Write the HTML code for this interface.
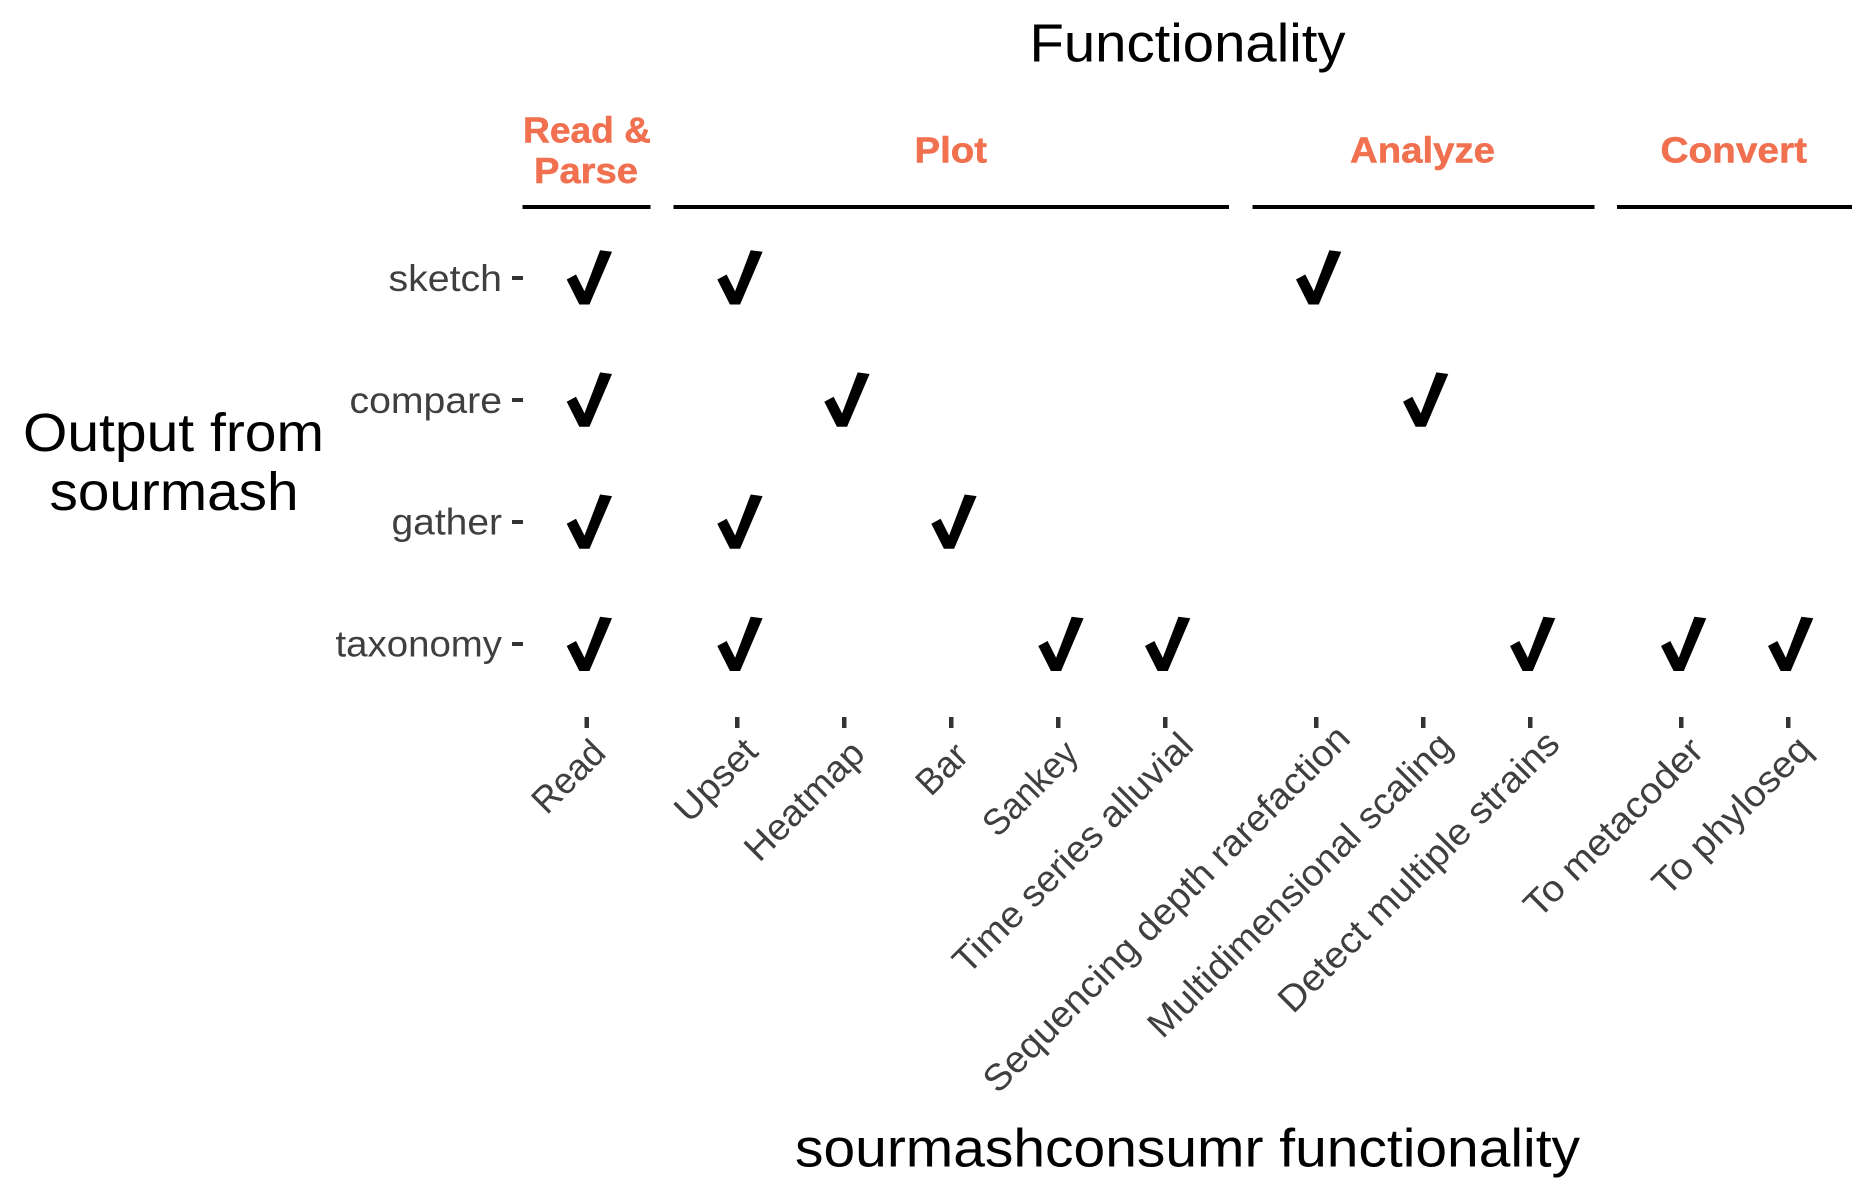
<!DOCTYPE html>
<html><head><meta charset="utf-8"><style>
html,body{margin:0;padding:0;background:#fff;width:1875px;height:1200px;overflow:hidden}
svg{display:block}
text{font-family:"Liberation Sans",sans-serif}
.t{font-size:54px;fill:#000}
.c{font-size:36px;font-weight:700;fill:#F0704F;stroke:#F0704F;stroke-width:.5}
.l{font-size:37px;fill:#3f3f3f}
</style></head><body>
<svg width="1875" height="1200" viewBox="0 0 1875 1200" xmlns="http://www.w3.org/2000/svg">
<rect width="1875" height="1200" fill="#fff"/>
<text class="t" x="1029.5" y="61.7" textLength="316" lengthAdjust="spacingAndGlyphs">Functionality</text>
<text class="t" x="23" y="451" textLength="301" lengthAdjust="spacingAndGlyphs">Output from</text>
<text class="t" x="49.5" y="510" textLength="249" lengthAdjust="spacingAndGlyphs">sourmash</text>
<text class="t" x="795" y="1166.7" textLength="785" lengthAdjust="spacingAndGlyphs">sourmashconsumr functionality</text>

<text class="c" x="523" y="142.7" textLength="128" lengthAdjust="spacingAndGlyphs">Read &amp;</text>
<text class="c" x="534" y="183" textLength="104" lengthAdjust="spacingAndGlyphs">Parse</text>
<text class="c" x="914.5" y="162.6" textLength="72.5" lengthAdjust="spacingAndGlyphs">Plot</text>
<text class="c" x="1350" y="162.6" textLength="145" lengthAdjust="spacingAndGlyphs">Analyze</text>
<text class="c" x="1660.5" y="162.6" textLength="146.5" lengthAdjust="spacingAndGlyphs">Convert</text>

<g fill="#000">
<rect x="522.5" y="205" width="128" height="4"/>
<rect x="673.5" y="205" width="555.5" height="4"/>
<rect x="1252.5" y="205" width="342" height="4"/>
<rect x="1617" y="205" width="235" height="4"/>
</g>

<text class="l" x="388.5" y="291" textLength="113.5" lengthAdjust="spacingAndGlyphs">sketch</text>
<text class="l" x="349.5" y="413" textLength="152.5" lengthAdjust="spacingAndGlyphs">compare</text>
<text class="l" x="391.5" y="534.5" textLength="110.5" lengthAdjust="spacingAndGlyphs">gather</text>
<text class="l" x="335.5" y="656.5" textLength="166.5" lengthAdjust="spacingAndGlyphs">taxonomy</text>

<g fill="#333">
<rect x="512" y="276" width="11" height="4"/>
<rect x="512" y="398" width="11" height="4"/>
<rect x="512" y="520" width="11" height="4"/>
<rect x="512" y="642" width="11" height="4"/>
<rect x="584.5" y="717" width="4.5" height="11"/>
<rect x="735" y="717" width="4.5" height="11"/>
<rect x="842" y="717" width="4.5" height="11"/>
<rect x="949" y="717" width="4.5" height="11"/>
<rect x="1056" y="717" width="4.5" height="11"/>
<rect x="1163" y="717" width="4.5" height="11"/>
<rect x="1314" y="717" width="4.5" height="11"/>
<rect x="1421" y="717" width="4.5" height="11"/>
<rect x="1528" y="717" width="4.5" height="11"/>
<rect x="1679" y="717" width="4.5" height="11"/>
<rect x="1786" y="717" width="4.5" height="11"/>
</g>

<g fill="#000">
<polygon transform="translate(586.7,277.5)" points="13.4,-27.3 25.3,-25.7 2.8,27 -7.4,27 -20,2 -10.7,-3 -2.2,13.7"/>
<polygon transform="translate(737.3,277.5)" points="13.4,-27.3 25.3,-25.7 2.8,27 -7.4,27 -20,2 -10.7,-3 -2.2,13.7"/>
<polygon transform="translate(1316,277.5)" points="13.4,-27.3 25.3,-25.7 2.8,27 -7.4,27 -20,2 -10.7,-3 -2.2,13.7"/>

<polygon transform="translate(586.7,399.7)" points="13.4,-27.3 25.3,-25.7 2.8,27 -7.4,27 -20,2 -10.7,-3 -2.2,13.7"/>
<polygon transform="translate(844.3,399.7)" points="13.4,-27.3 25.3,-25.7 2.8,27 -7.4,27 -20,2 -10.7,-3 -2.2,13.7"/>
<polygon transform="translate(1423,399.7)" points="13.4,-27.3 25.3,-25.7 2.8,27 -7.4,27 -20,2 -10.7,-3 -2.2,13.7"/>

<polygon transform="translate(586.7,521.8)" points="13.4,-27.3 25.3,-25.7 2.8,27 -7.4,27 -20,2 -10.7,-3 -2.2,13.7"/>
<polygon transform="translate(737.3,521.8)" points="13.4,-27.3 25.3,-25.7 2.8,27 -7.4,27 -20,2 -10.7,-3 -2.2,13.7"/>
<polygon transform="translate(951.3,521.8)" points="13.4,-27.3 25.3,-25.7 2.8,27 -7.4,27 -20,2 -10.7,-3 -2.2,13.7"/>

<polygon transform="translate(586.7,644)" points="13.4,-27.3 25.3,-25.7 2.8,27 -7.4,27 -20,2 -10.7,-3 -2.2,13.7"/>
<polygon transform="translate(737.3,644)" points="13.4,-27.3 25.3,-25.7 2.8,27 -7.4,27 -20,2 -10.7,-3 -2.2,13.7"/>
<polygon transform="translate(1058.3,644)" points="13.4,-27.3 25.3,-25.7 2.8,27 -7.4,27 -20,2 -10.7,-3 -2.2,13.7"/>
<polygon transform="translate(1165,644)" points="13.4,-27.3 25.3,-25.7 2.8,27 -7.4,27 -20,2 -10.7,-3 -2.2,13.7"/>
<polygon transform="translate(1530,644)" points="13.4,-27.3 25.3,-25.7 2.8,27 -7.4,27 -20,2 -10.7,-3 -2.2,13.7"/>
<polygon transform="translate(1681,644)" points="13.4,-27.3 25.3,-25.7 2.8,27 -7.4,27 -20,2 -10.7,-3 -2.2,13.7"/>
<polygon transform="translate(1788,644)" points="13.4,-27.3 25.3,-25.7 2.8,27 -7.4,27 -20,2 -10.7,-3 -2.2,13.7"/>
</g>

<text class="l" transform="translate(546.8,815.8) rotate(-45)" textLength="86" lengthAdjust="spacingAndGlyphs">Read</text>
<text class="l" transform="translate(689.2,824.2) rotate(-45)" textLength="100" lengthAdjust="spacingAndGlyphs">Upset</text>
<text class="l" transform="translate(759.2,863.2) rotate(-45)" textLength="152" lengthAdjust="spacingAndGlyphs">Heatmap</text>
<text class="l" transform="translate(930.8,797.5) rotate(-45)" textLength="56" lengthAdjust="spacingAndGlyphs">Bar</text>
<text class="l" transform="translate(997.5,838.5) rotate(-45)" textLength="117" lengthAdjust="spacingAndGlyphs">Sankey</text>
<text class="l" transform="translate(967.7,975.7) rotate(-45)" textLength="322" lengthAdjust="spacingAndGlyphs">Time series alluvial</text>
<text class="l" transform="translate(998,1094.7) rotate(-45)" textLength="501" lengthAdjust="spacingAndGlyphs">Sequencing depth rarefaction</text>
<text class="l" transform="translate(1162.5,1039.8) rotate(-45)" textLength="413" lengthAdjust="spacingAndGlyphs">Multidimensional scaling</text>
<text class="l" transform="translate(1293,1014.7) rotate(-45)" textLength="380" lengthAdjust="spacingAndGlyphs">Detect multiple strains</text>
<text class="l" transform="translate(1538.7,919.7) rotate(-45)" textLength="236" lengthAdjust="spacingAndGlyphs">To metacoder</text>
<text class="l" transform="translate(1667.3,897.7) rotate(-45)" textLength="207" lengthAdjust="spacingAndGlyphs">To phyloseq</text>
</svg>
</body></html>
